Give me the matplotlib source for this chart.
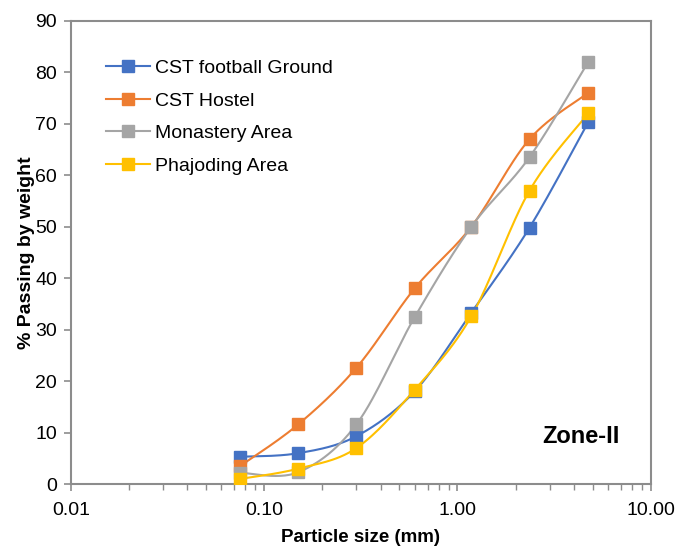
import numpy as np
import matplotlib.pyplot as plt
from matplotlib.ticker import FixedLocator, LogLocator, NullFormatter

plt.rcParams['font.family'] = ['Liberation Sans', 'DejaVu Sans']

sieve = [0.075, 0.15, 0.3, 0.6, 1.18, 2.36, 4.75]
football = [5.3, 6.0, 9.3, 18.0, 33.3, 49.8, 70.3]
hostel = [3.5, 11.6, 22.6, 38.0, 50.0, 67.0, 76.0]
monastery = [2.2, 2.3, 11.6, 32.4, 50.0, 63.5, 82.0]
phajoding = [1.0, 3.0, 7.0, 18.3, 32.6, 57.0, 72.0]

names = ["CST football Ground", "CST Hostel", "Monastery Area", "Phajoding Area"]
colors = ["#4472C4", "#ED7D31", "#A5A5A5", "#FFC000"]


def smooth(x, y, n=30):
    # excel style smoothed line (bezier through points), done in log-x space
    lx = np.log10(x)
    p = np.column_stack([lx, y])
    out = []
    for i in range(len(p) - 1):
        p0 = p[i - 1] if i > 0 else p[i]
        p1 = p[i]
        p2 = p[i + 1]
        p3 = p[i + 2] if i + 2 < len(p) else p[i + 1]
        c1 = p1 + (p2 - p0) / 6
        c2 = p2 - (p3 - p1) / 6
        t = np.linspace(0, 1, n)[:, None]
        seg = (1 - t)**3 * p1 + 3 * (1 - t)**2 * t * c1 + 3 * (1 - t) * t**2 * c2 + t**3 * p2
        out.append(seg)
    out = np.vstack(out)
    return 10**out[:, 0], out[:, 1]


fig = plt.figure(figsize=(6.78, 5.47), dpi=100)
ax = fig.add_axes([0.1047, 0.115, 0.855, 0.847])

for data, name, c in zip([football, hostel, monastery, phajoding], names, colors):
    sx, sy = smooth(sieve, data)
    ax.plot(sx, sy, color=c, lw=1.5, zorder=2)
    ax.plot(sieve, data, ls="none", marker="s", ms=9, color=c, zorder=3)
    ax.plot([], [], color=c, lw=1.5, marker="s", ms=9, label=name)

ax.set_xscale("log")
ax.set_xlim(0.01, 10)
ax.set_ylim(0, 90)
ax.xaxis.set_major_locator(FixedLocator([0.01, 0.1, 1, 10]))
ax.set_xticklabels(["0.01", "0.10", "1.00", "10.00"])
ax.xaxis.set_minor_locator(LogLocator(base=10, subs=np.arange(2, 10)))
ax.xaxis.set_minor_formatter(NullFormatter())
ax.set_yticks(range(0, 91, 10))

for s in ax.spines.values():
    s.set_color("#8c8c8c")
    s.set_linewidth(1.5)
ax.tick_params(axis="both", which="major", labelsize=14, color="#8c8c8c",
               width=1.2, length=5, pad=5)
ax.tick_params(axis="x", which="major", pad=8)
ax.tick_params(axis="x", which="minor", color="#8c8c8c", width=1.0, length=4)

ax.set_xlabel("Particle size (mm)", fontsize=13.5, fontweight="bold", labelpad=7)
ax.set_ylabel("% Passing by weight", fontsize=14, fontweight="bold", labelpad=0)

ax.legend(loc="upper left", bbox_to_anchor=(0.03, 0.955), frameon=False,
          fontsize=14, handlelength=2.25, labelspacing=0.78, handletextpad=0.3)

ax.text(0.879, 0.103, "Zone-II", transform=ax.transAxes, fontsize=17,
        fontweight="bold", ha="center", va="center")

plt.savefig("out.png", dpi=100)
